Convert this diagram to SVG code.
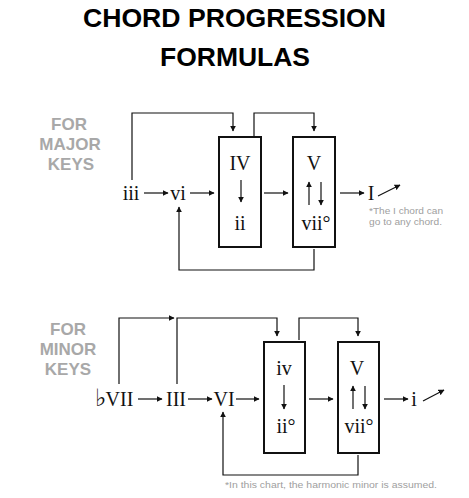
<svg xmlns="http://www.w3.org/2000/svg" width="469" height="498" viewBox="0 0 469 498">
<defs>
<marker id="ah" viewBox="0 0 10 10" refX="9" refY="5" markerWidth="6" markerHeight="6" markerUnits="userSpaceOnUse" orient="auto">
<path d="M0,0 L10,5 L0,10 z" fill="#111"/>
</marker>
</defs>
<style>
.title{font-family:"Liberation Sans",Arial,sans-serif;font-weight:900;font-size:26px;fill:#000;text-anchor:middle}
.key{font-family:"Liberation Sans",Arial,sans-serif;font-weight:bold;font-size:17px;fill:#a8a8a8;text-anchor:middle}
.ch{font-family:"Liberation Serif","Times New Roman",serif;font-size:20px;fill:#111;text-anchor:middle}
.note{font-family:"Liberation Sans",Arial,sans-serif;font-size:9.5px;fill:#a0a0a0}
.box{fill:#fff;stroke:#111;stroke-width:2}
.a{fill:none;stroke:#111;stroke-width:1.2;marker-end:url(#ah)}
</style>
<rect width="469" height="498" fill="#fff"/>
<g id="title">
<text class="title" x="234.5" y="27" textLength="303" lengthAdjust="spacingAndGlyphs">CHORD PROGRESSION</text>
<text class="title" x="235" y="66" textLength="150" lengthAdjust="spacingAndGlyphs">FORMULAS</text>
</g>
<g id="major-label">
<text class="key" x="69" y="130">FOR</text>
<text class="key" x="70" y="150">MAJOR</text>
<text class="key" x="71" y="170">KEYS</text>
</g>
<g id="minor-label">
<text class="key" x="68" y="335">FOR</text>
<text class="key" x="68" y="355">MINOR</text>
<text class="key" x="68" y="375">KEYS</text>
</g>
<g id="connectors">
<path class="a" d="M144,193 H168"/>
<path class="a" d="M190,193 H214"/>
<path class="a" d="M264,193 H288"/>
<path class="a" d="M340,193 H364"/>
<path class="a" d="M378,196 L400,185"/>
<path class="a" d="M132,180 V113 H233 V131"/>
<path class="a" d="M254,136 V113 H314 V131"/>
<path class="a" d="M314,249 V270 H179 V207"/>
<path class="a" d="M138,399 H162"/>
<path class="a" d="M188,399 H212"/>
<path class="a" d="M236,399 H259"/>
<path class="a" d="M309,399 H333"/>
<path class="a" d="M384,399 H408"/>
<path class="a" d="M423,401 L444,390"/>
<path class="a" d="M119,384 V318 H174"/>
<path class="a" d="M177,384 V318 H277 V336"/>
<path class="a" d="M299,340 V318 H358 V336"/>
<path class="a" d="M358,455 V475 H223 V412"/>
</g>
<g id="major-iii"><text class="ch" x="131" y="200">iii</text></g>
<g id="major-vi"><text class="ch" x="178" y="200">vi</text></g>
<g id="major-box-IV">
<rect class="box" x="219" y="137" width="42" height="110"/>
<text class="ch" x="240" y="170">IV</text>
<path class="a" d="M241,180 V202"/>
<text class="ch" x="240" y="230">ii</text>
</g>
<g id="major-box-V">
<rect class="box" x="293" y="137" width="42" height="110"/>
<text class="ch" x="314" y="170">V</text>
<path class="a" d="M309,205 V182"/>
<path class="a" d="M321,182 V205"/>
<text class="ch" x="316" y="230">vii°</text>
</g>
<g id="major-I"><text class="ch" x="371" y="200">I</text></g>
<g id="major-note">
<text class="note" x="369" y="214" textLength="74" lengthAdjust="spacingAndGlyphs">*The I chord can</text>
<text class="note" x="369" y="225" textLength="73" lengthAdjust="spacingAndGlyphs">go to any chord.</text>
</g>
<g id="minor-bVII"><text class="ch" x="114" y="406"><tspan font-size="24">♭</tspan>VII</text></g>
<g id="minor-III"><text class="ch" x="176" y="406">III</text></g>
<g id="minor-VI"><text class="ch" x="224" y="406">VI</text></g>
<g id="minor-box-iv">
<rect class="box" x="264" y="342" width="41" height="111"/>
<text class="ch" x="284" y="375">iv</text>
<path class="a" d="M284,385 V409"/>
<text class="ch" x="286" y="433">ii°</text>
</g>
<g id="minor-box-V">
<rect class="box" x="338" y="342" width="41" height="111"/>
<text class="ch" x="357" y="375">V</text>
<path class="a" d="M353,409 V386"/>
<path class="a" d="M365,386 V409"/>
<text class="ch" x="359" y="433">vii°</text>
</g>
<g id="minor-i"><text class="ch" x="414" y="406">i</text></g>
<g id="minor-note">
<text class="note" x="225" y="488" textLength="212" lengthAdjust="spacingAndGlyphs">*In this chart, the harmonic minor is assumed.</text>
</g>
</svg>
